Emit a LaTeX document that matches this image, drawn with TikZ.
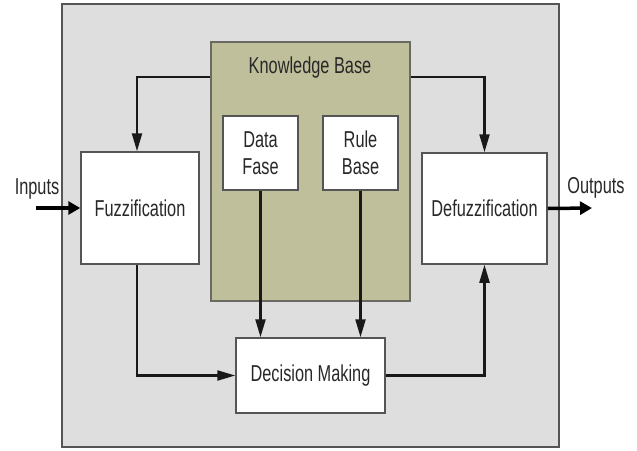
\documentclass[tikz,border=0pt]{standalone}
\usepackage{fontspec}
\setmainfont[FakeStretch=0.71]{Liberation Sans}
\usetikzlibrary{arrows.meta}
\definecolor{bg}{RGB}{222,222,222}
\definecolor{kbfill}{RGB}{191,191,155}
\definecolor{boxline}{RGB}{85,85,85}
\definecolor{txt}{RGB}{40,40,40}
\begin{document}
\begin{tikzpicture}[x=1pt,y=-1pt,
  box/.style={draw=boxline, line width=1.5pt, fill=white, inner sep=0pt, anchor=center,
    font=\fontsize{23}{25}\selectfont, text=txt, align=center},
  lbl/.style={font=\fontsize{23}{25}\selectfont, text=txt, inner sep=0pt, anchor=center},
  conn/.style={line width=2.2pt, draw=black!90, -{Triangle[length=18pt,width=10pt]}},
  ioarrow/.style={line width=3.5pt, draw=black, -{Triangle[length=12pt,width=13pt]}}]
\useasboundingbox (0,0) rectangle (637,450);
\fill[white] (0,0) rectangle (637,450);
\draw[fill=bg, draw=boxline, line width=1.5pt] (62,4) rectangle (559,447);
\node[box, fill=kbfill, draw=boxline!80!kbfill, minimum width=199pt, minimum height=259pt] (kb) at (310.5,171.5) {};
\node[lbl] (kbl) at (310,68) {Knowledge Base};
\node[box, minimum width=118pt, minimum height=112pt] (fuz) at (140,208) {Fuzzification};
\node[box, minimum width=75pt, minimum height=74pt] (df) at (260.5,153) {Data\\[2pt]Fase};
\node[box, minimum width=75pt, minimum height=74pt] (rb) at (360.5,153) {Rule\\[2pt]Base};
\node[box, minimum width=125pt, minimum height=111pt] (def) at (484.5,208.5) {Defuzzification};
\node[box, minimum width=149pt, minimum height=75pt] (dm) at (310.5,375.5) {Decision Making};
\node[lbl] (in) at (37,189) {Inputs};
\node[lbl] (out) at (596,188) {Outputs};
\coordinate (inS) at (36,208);
\coordinate (outE) at (592,208);
\draw[conn] ([yshift=-36pt]kb.north west) -| ([xshift=-3pt]fuz.north);
\draw[conn] ([yshift=-36pt]kb.north east) -| (def.north);
\draw[conn] (df.south) -- (df.south |- dm.north);
\draw[conn] (rb.south) -- (rb.south |- dm.north);
\draw[conn] ([xshift=-3pt]fuz.south) |- (dm.west);
\draw[conn] (dm.east) -| (def.south);
\draw[ioarrow] (inS) -- (fuz.west);
\draw[ioarrow] (def.east) -- (outE);
\end{tikzpicture}
\end{document}
